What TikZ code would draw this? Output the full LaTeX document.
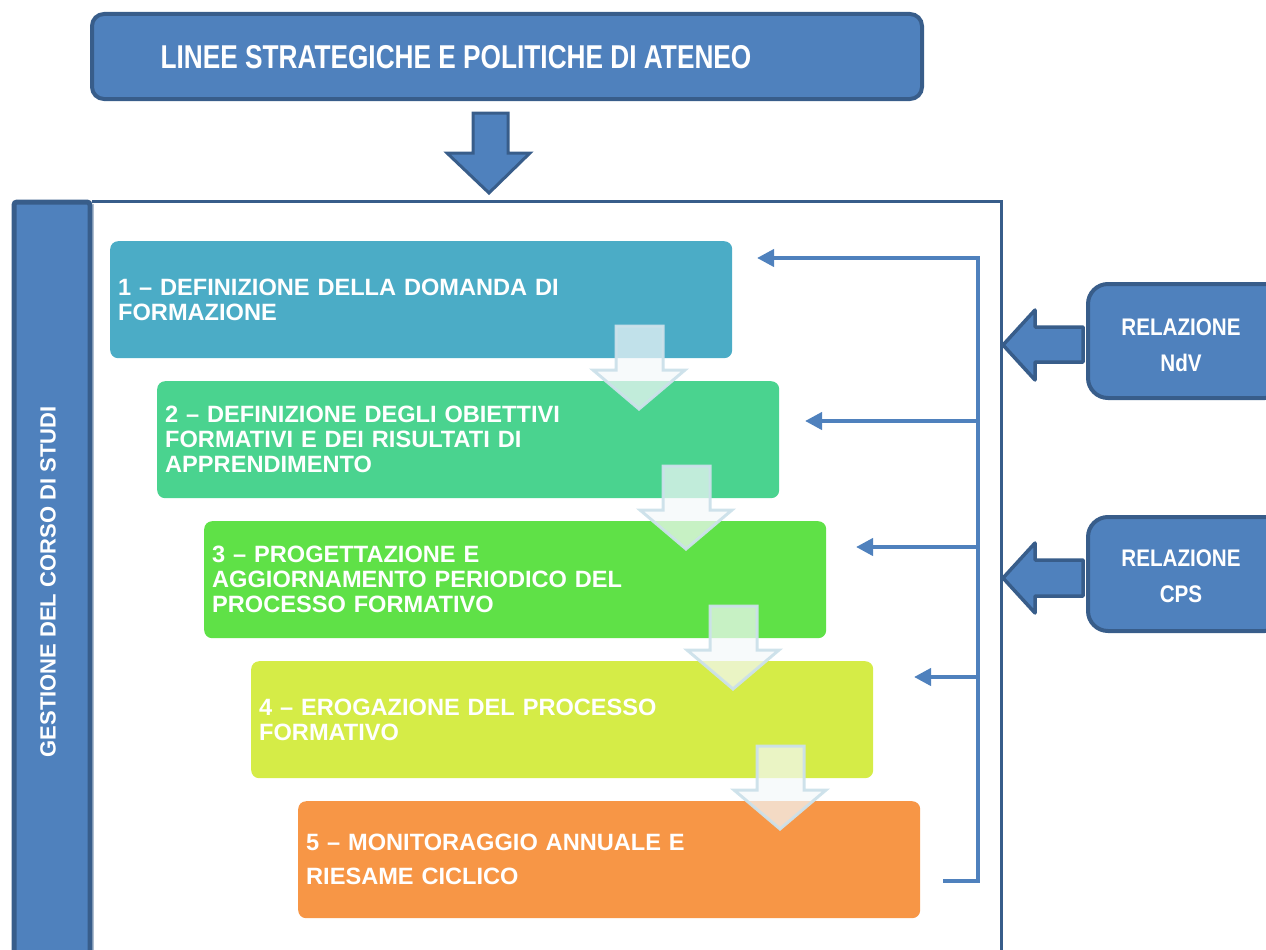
\documentclass[tikz,border=0pt]{standalone}
\usepackage{fontspec}
\setmainfont{Liberation Sans}
\usepackage{graphicx}
\usetikzlibrary{arrows.meta}
\definecolor{bfill}{HTML}{4F81BD}
\definecolor{bdark}{HTML}{385D8A}
\definecolor{cone}{HTML}{4BACC6}
\definecolor{ctwo}{HTML}{4AD38F}
\definecolor{cthree}{HTML}{5FE147}
\definecolor{cfour}{HTML}{D5EC47}
\definecolor{cfive}{HTML}{F79646}
\definecolor{ghost}{HTML}{F4F8FA}
\definecolor{ghostedge}{HTML}{CCE1EA}
\tikzset{
  blockbox/.style={draw=bdark, fill=bfill, line width=4pt, rounded corners=12pt},
  stepbox/.style={rounded corners=8pt, anchor=north west, minimum width=622pt, minimum height=117pt,
    text width=606pt, align=left, inner sep=0pt, text=white,
    font=\bfseries\fontsize{23.6}{25}\selectfont},
  ghostarrow/.style={fill=ghost, fill opacity=0.7, draw=ghostedge, draw opacity=0.95, line width=3pt, line join=miter},
  fb/.style={draw=bfill, line width=4pt},
  fbarrow/.style={fb, -{Triangle[length=17pt,width=17pt]}},
  reltext/.style={text=white, font=\bfseries\fontsize{24}{36}\selectfont, align=center},
}
\begin{document}
\begin{tikzpicture}[x=1pt,y=-1pt]
\useasboundingbox (0,0) rectangle (1266,950);
\clip (0,0) rectangle (1266,950);
% top box
\draw[blockbox] (92,14) rectangle (922,99);
\node[anchor=west, text=white, font=\bfseries\fontsize{33}{36}\selectfont] (toptext) at (157,57)
  {\scalebox{0.795}[1]{LINEE STRATEGICHE E POLITICHE DI ATENEO}};
% down arrow
\draw[fill=bfill, draw=bdark, line width=3pt, line join=miter]
  (473,113) -- (508,113) -- (508,153) -- (530,153) -- (489,193) -- (447,153) -- (473,153) -- cycle;
% frame
\draw[draw=bdark, line width=3pt] (92,201) -- (1001,201) -- (1001,960);
\draw[fill=bfill, draw=bdark, line width=5pt, rounded corners=3pt] (14,202) rectangle (90,970);
\draw[draw=bdark!40, line width=1pt] (93,204) -- (93,960);
\node[rotate=90, text=white, font=\bfseries\fontsize{22}{25}\selectfont] (bar) at (48,582)
  {GESTIONE DEL CORSO DI STUDI};
% steps
\node[stepbox, fill=cone]   (s1) at (110,241) {1 – DEFINIZIONE DELLA DOMANDA DI\\FORMAZIONE};
\node[stepbox, fill=ctwo]   (s2) at (157,381) {2 – DEFINIZIONE DEGLI OBIETTIVI\\FORMATIVI E DEI RISULTATI DI\\APPRENDIMENTO};
\node[stepbox, fill=cthree] (s3) at (204,521) {3 – PROGETTAZIONE E\\AGGIORNAMENTO PERIODICO DEL\\PROCESSO FORMATIVO};
\node[stepbox, fill=cfour]  (s4) at (251,661) {4 – EROGAZIONE DEL PROCESSO\\FORMATIVO};
\node[stepbox, fill=cfive, font=\bfseries\fontsize{23.6}{34}\selectfont] (s5) at (298,801) {5 – MONITORAGGIO ANNUALE E\\RIESAME CICLICO};
% ghost arrows between steps
\foreach \i in {0,1,2,3}{
  \begin{scope}[shift={(47*\i,140*\i)}]
    \draw[ghostarrow] (616,326) -- (663,326) -- (663,370) -- (685,370) -- (639,409) -- (593,370) -- (616,370) -- cycle;
  \end{scope}
}
% feedback lines
\coordinate (fbot) at (943,881);
\coordinate (fcorner) at (978,881);
\coordinate (ftop) at (978,258);
\coordinate (f2) at (978,421);
\coordinate (f3) at (978,547);
\coordinate (f4) at (978,677);
\coordinate (t1) at (757,258);
\coordinate (t2) at (805,421);
\coordinate (t3) at (856,547);
\coordinate (t4) at (914,677);
\draw[fbarrow, line join=miter] (fbot) -- (fcorner) -- (ftop) -- (t1);
\draw[fbarrow] (f2) -- (t2);
\draw[fbarrow] (f3) -- (t3);
\draw[fbarrow] (f4) -- (t4);
% relazione boxes
\draw[blockbox, rounded corners=20pt] (1088,284) rectangle (1285,398);
\node[reltext] (ndv) at (1181,345) {\scalebox{0.86}[1]{RELAZIONE}\\\scalebox{0.86}[1]{NdV}};
\draw[blockbox, rounded corners=20pt] (1088,517) rectangle (1285,631);
\node[reltext] (cps) at (1181,576) {\scalebox{0.86}[1]{RELAZIONE}\\\scalebox{0.86}[1]{CPS}};
% block arrows into frame
\draw[fill=bfill, draw=bdark, line width=3.5pt, line join=round]
  (1083,327) -- (1035,327) -- (1035,310) -- (1003,345) -- (1035,380) -- (1035,362) -- (1083,362) -- cycle;
\draw[fill=bfill, draw=bdark, line width=3.5pt, line join=round]
  (1083,560) -- (1035,560) -- (1035,543) -- (1003,578) -- (1035,613) -- (1035,596) -- (1083,596) -- cycle;
\end{tikzpicture}
\end{document}
